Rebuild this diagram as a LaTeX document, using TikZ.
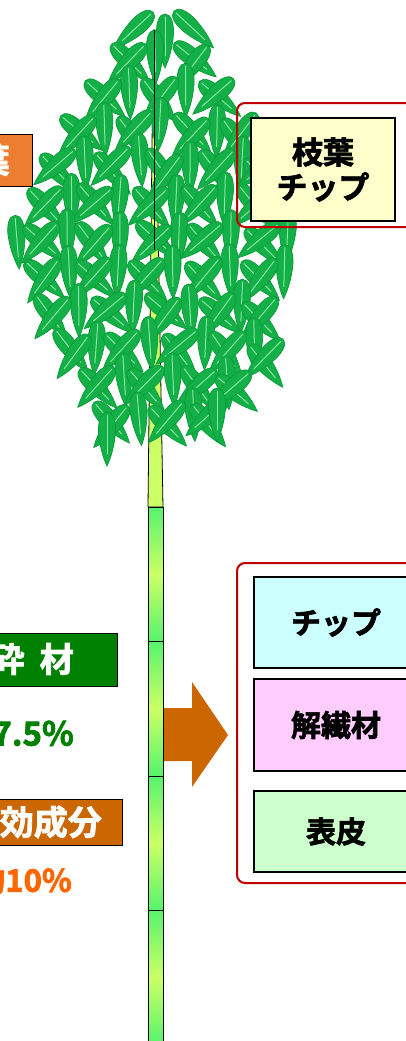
\documentclass[tikz,border=0pt]{standalone}
\usepackage{fontspec}
\newfontfamily\jp{Noto Sans CJK JP Bold}[FakeBold=2.2]

\definecolor{leafgreen}{HTML}{12B046}
\definecolor{leafdark}{HTML}{0C9A3A}
\definecolor{leafvein}{HTML}{8BE3A4}
\definecolor{stemyellow}{HTML}{CCFF66}
\definecolor{stemgreen}{HTML}{55F46C}
\definecolor{framered}{HTML}{C00000}
\definecolor{chipcyan}{HTML}{CCFFFF}
\definecolor{fiberpink}{HTML}{FFCCFF}
\definecolor{barkgreen}{HTML}{CCFFCC}
\definecolor{leafyellow}{HTML}{FFFFCC}
\definecolor{boxorange}{HTML}{ED7D31}
\definecolor{boxgreen}{HTML}{008000}
\definecolor{boxbrown}{HTML}{CC6600}
\definecolor{textorange}{HTML}{FF6600}

\tikzset{
  leaf/.pic={
    \path[fill=leafgreen, draw=leafdark, line width=0.7pt]
      (0,0) .. controls (0,6) and (9,9) .. (20,8.5)
            .. controls (34,7.5) and (47,3.5) .. (54,0)
            .. controls (47,-3.5) and (34,-7.5) .. (20,-8.5)
            .. controls (9,-9) and (0,-6) .. (0,0) -- cycle;
    \draw[leafvein, line width=1pt, line cap=round] (3,0) -- (42,0);
  },
  frame/.style={draw=framered, line width=2pt, rounded corners=8pt},
  productbox/.style={draw=black, line width=1.3pt, minimum width=164pt, inner sep=0pt,
    font=\jp\fontsize{30}{34}\selectfont},
  sidebox/.style={draw=black, line width=1.3pt, inner sep=0pt},
  whitetext/.style={text=white, inner sep=0pt, font=\jp\fontsize{34}{38}\selectfont},
  bigfigure/.style={inner sep=0pt, font=\jp\fontsize{33}{38}\selectfont},
  stemline/.style={draw=black, line width=0.8pt}
}

\begin{document}
\begin{tikzpicture}[x=1pt,y=-1pt]
\useasboundingbox (0,0) rectangle (405,1041);

% arrow toward the products
\fill[boxbrown] (158,708) -- (192,708) -- (192,682) -- (228,735) -- (192,787)
  -- (192,761) -- (158,761) -- cycle;

% culm: tapered upper part and jointed lower part
\path[fill=stemyellow, stemline] (153.3,30) -- (154.7,30) -- (163,507) -- (148,507) -- cycle;
\foreach \top/\bot in {507/641, 641/776, 776/910, 910/1045}{
  \path[top color=stemgreen, bottom color=stemgreen, middle color=stemyellow, stemline]
    (148,\top) rectangle (163,\bot);
}

% foliage: crossed leaf pairs, each with a hanging leaf to its right
% (side: 0 none, 1 right, 2 right and left)
\pgfmathsetseed{7}
\foreach \x/\y/\a in {153/12/-137, 174/11/-43, 165/14/-90}{
  \path (\x,\y) pic[rotate=\a] {leaf};
}
\foreach \gx/\gy/\side in {
  128/44/1, 190/44/0,
  102/80/1, 160/78/1, 218/80/0,
  78/116/1, 134/114/1, 190/116/1, 240/116/0,
  58/152/1, 112/150/1, 166/152/1, 218/150/1, 262/156/0,
  44/188/1, 96/186/1, 150/188/1, 202/186/1, 254/188/1,
  40/224/2, 96/224/1, 152/224/1, 206/224/1, 260/226/1,
  40/260/1, 94/260/1, 148/260/1, 202/260/1, 256/260/1,
  54/296/1, 108/296/1, 162/296/1, 216/296/1, 262/300/0,
  70/332/1, 124/332/1, 178/332/1, 230/332/1, 264/342/0,
  94/368/1, 148/368/1, 200/368/1, 236/374/0,
  112/404/1, 166/404/1, 208/402/0}{
  \pgfmathsetmacro\la{-133+8*rand}
  \pgfmathsetmacro\ra{-47+8*rand}
  \pgfmathsetmacro\ca{-90+5*rand}
  \pgfmathsetmacro\cb{-90+5*rand}
  \pgfmathsetmacro\dx{3*rand}
  \pgfmathsetmacro\dy{3*rand}
  \ifnum\side>0
    \path (\gx+26+\dx,\gy-14-\dy) pic[rotate=\ca] {leaf};
  \fi
  \ifnum\side>1
    \path (\gx-26+\dx,\gy-10+\dy) pic[rotate=\cb] {leaf};
  \fi
  \path (\gx-17+\dx,\gy+\dy) pic[rotate=\ra] {leaf};
  \path (\gx+17+\dx,\gy-\dy) pic[rotate=\la] {leaf};
}
\foreach \x/\y/\a in {107/412/-90, 217/388/-90}{
  \path (\x,\y) pic[rotate=\a] {leaf};
}

% thin tip of the culm stays visible above the leaves
\draw[black, line width=0.8pt] (154,30) -- (154,250);

% branch-and-leaf product
\draw[frame] (237,103) rectangle (445,227);
\node[sidebox, fill=leafyellow, minimum width=144pt, minimum height=103pt, align=center,
  font=\jp\fontsize{31}{35}\selectfont] (leafchip) at (323,169.5) {枝葉\\チップ};

% culm products
\draw[frame] (237,563) rectangle (445,883);
\node[productbox, fill=chipcyan, minimum height=91pt] (chip) at (336,622.5) {チップ};
\node[productbox, fill=fiberpink, minimum height=92pt] (fiber) at (336,725) {解繊材};
\node[productbox, fill=barkgreen, minimum height=81pt] (bark) at (336,831.5) {表皮};

% left-hand labels
\node[sidebox, fill=boxorange, minimum width=100pt, minimum height=52pt, anchor=north east] (leafbox) at (33,134) {};
\node[whitetext, anchor=east] (leaflabel) at (10,160) {葉};

\node[sidebox, fill=boxgreen, minimum width=240pt, minimum height=53pt, anchor=north east] (crushbox) at (118,633) {};
\node[whitetext, anchor=east] (crushlabel) at (74,659) {粉\hspace{0.45em}砕\hspace{0.45em}材};
\node[bigfigure, text=boxgreen, anchor=east] (crushshare) at (74,733) {約97.5\%};

\node[sidebox, fill=boxbrown, minimum width=240pt, minimum height=46pt, anchor=north east] (extractbox) at (123,799) {};
\node[whitetext, anchor=east] (extractlabel) at (102,822) {有効成分};
\node[bigfigure, text=textorange, anchor=east, font=\jp\fontsize{31}{36}\selectfont] (extractshare) at (72,880) {約10\%};
\end{tikzpicture}
\end{document}
